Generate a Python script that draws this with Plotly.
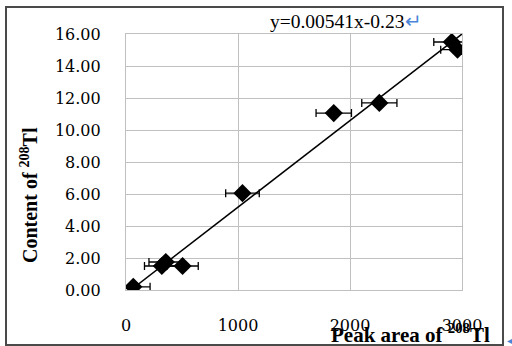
import plotly.graph_objects as go

# Data
peak_area = [65, 320, 355, 505, 1040, 1855, 2262, 2908, 2960]
content = [0.20, 1.50, 1.75, 1.50, 6.05, 11.06, 11.69, 15.50, 15.02]
area_err = [150, 155, 150, 140, 150, 158, 157, 160, 150]
slope = 0.00541
intercept = -0.23
fit_y_ends = [0.0, 16.0]
x_ticks = [0, 1000, 2000, 3000]
y_ticks = [0, 2, 4, 6, 8, 10, 12, 14, 16]

fit_x = [(y - intercept) / slope for y in fit_y_ends]
fit_y = [slope * x + intercept for x in fit_x]

fig = go.Figure()
fig.add_trace(go.Scatter(
    x=fit_x, y=fit_y, mode="lines",
    line=dict(color="black", width=1.5), showlegend=False, hoverinfo="skip"))
fig.add_trace(go.Scatter(
    x=peak_area, y=content, mode="markers",
    marker=dict(symbol="diamond", size=14, color="black"),
    error_x=dict(type="data", array=area_err, color="black", thickness=1.3, width=4),
    showlegend=False))

serif = "DejaVu Serif"
fig.update_layout(
    width=512, height=346,
    margin=dict(l=126, r=50, t=34, b=56),
    paper_bgcolor="white", plot_bgcolor="white",
    xaxis=dict(range=[0, 3000], tickvals=x_ticks, ticktext=[str(v) for v in x_ticks],
               showgrid=True, gridcolor="#c0c0c0", gridwidth=1.2,
               showline=True, linecolor="#c0c0c0", linewidth=1.2, mirror=True,
               zeroline=False, ticks="", ticklabelstandoff=21,
               tickfont=dict(family=serif, size=16, color="black")),
    yaxis=dict(range=[0, 16], tickvals=y_ticks, ticktext=[f"{v:.2f}" for v in y_ticks],
               showgrid=True, gridcolor="#c0c0c0", gridwidth=1.2,
               showline=True, linecolor="#c0c0c0", linewidth=1.2, mirror=True,
               zeroline=False, ticks="", ticklabelstandoff=21,
               tickfont=dict(family=serif, size=16, color="black")),
)

pw = 512 - 126 - 50
ph = 346 - 34 - 56
def px(x):
    return (x - 126) / pw
def py(y):
    return 1 - (y - 34) / ph

# outer frame
fig.add_shape(type="rect", xref="paper", yref="paper",
              x0=px(6), x1=px(503), y0=py(345), y1=py(7),
              line=dict(color="#4a4a4a", width=2), layer="above")

fig.add_annotation(xref="paper", yref="paper", x=px(492), y=py(333),
                   xanchor="right", yanchor="middle", showarrow=False,
                   text="<b>Peak area of <sup>208</sup>Tl</b>",
                   font=dict(family="Liberation Serif", size=21, color="black"))
fig.add_annotation(xref="paper", yref="paper", x=px(29), y=py(195),
                   xanchor="center", yanchor="middle", showarrow=False, textangle=-90,
                   text="<b>Content of <sup>208</sup>Tl</b>",
                   font=dict(family="Liberation Serif", size=20, color="black"))
fig.add_annotation(xref="paper", yref="paper", x=px(268), y=py(21),
                   xanchor="left", yanchor="middle", showarrow=False,
                   text=f"y={slope}x{intercept}<span style='color:#4a86d8'>↵</span>",
                   font=dict(family="Liberation Serif", size=19.5, color="black"))
fig.add_annotation(xref="paper", yref="paper", x=px(505), y=py(340),
                   xanchor="left", yanchor="middle", showarrow=False,
                   text="◀", font=dict(family="DejaVu Sans", size=10, color="#4a86d8"))

fig.write_html("out.html")
